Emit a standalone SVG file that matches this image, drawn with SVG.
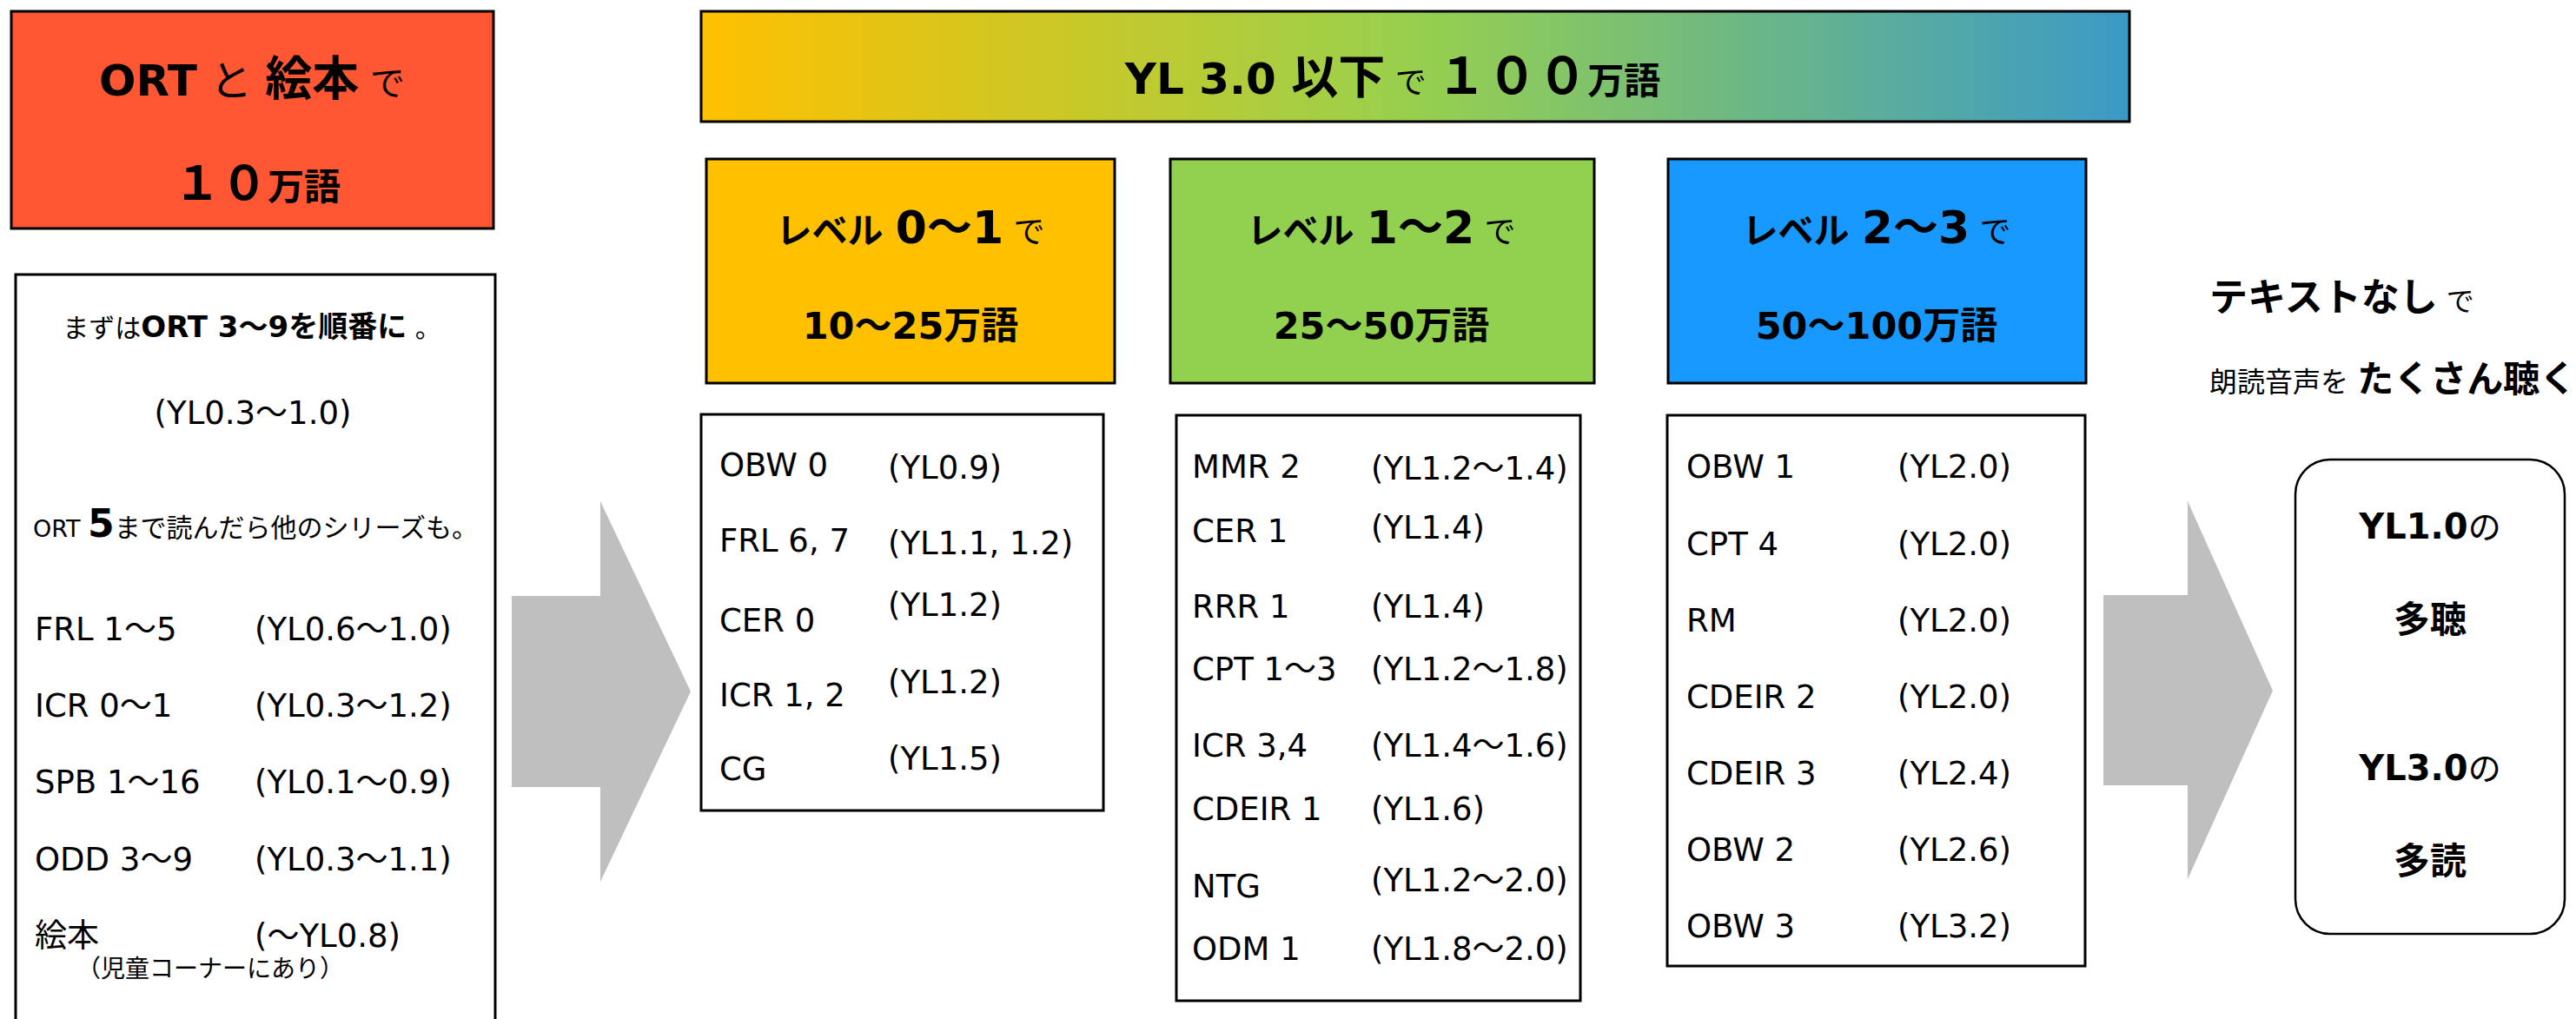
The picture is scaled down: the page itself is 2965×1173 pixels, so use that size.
<svg xmlns="http://www.w3.org/2000/svg" width="2965" height="1173" viewBox="0 0 2965 1173">
<defs>
  <linearGradient id="grad" x1="0" y1="0" x2="1" y2="0">
    <stop offset="0" stop-color="#FFC000"/>
    <stop offset="0.5" stop-color="#97D04E"/>
    <stop offset="1" stop-color="#3B9AC6"/>
  </linearGradient>
</defs>
<style>
  text { font-family: "DejaVu Sans", "Noto Sans CJK JP", sans-serif; fill: #000; }
  .b { font-weight: bold; }
  .box { stroke: #000; stroke-width: 3; }
  .list { font-size: 37px; }
  .arrow { fill: #BFBFBF; }
  .mid { text-anchor: middle; }
</style>
<rect width="2965" height="1173" fill="#FFFFFF"/>

<g id="connectors">
  <polygon class="arrow" points="589,686 691,686 691,577 795,796 691,1015 691,906 589,906"/>
  <polygon class="arrow" points="2421,685 2518,685 2518,577 2616,795 2518,1012 2518,904 2421,904"/>
</g>

<g id="node-ort">
  <rect class="box" x="13" y="13" width="555" height="250" fill="#FF5733"/>
  <text class="mid" x="290" y="110"><tspan class="b" font-size="50">ORT</tspan><tspan font-size="48"> と </tspan><tspan class="b" font-size="54">絵本</tspan><tspan font-size="40"> で</tspan></text>
  <text class="mid b" x="296" y="230"><tspan font-size="54">１０</tspan><tspan font-size="42">万語</tspan></text>
</g>

<g id="node-ort-list">
  <rect class="box" x="18" y="316" width="552" height="900" fill="#FFFFFF"/>
  <text class="mid" x="290" y="388"><tspan font-size="30">まずは</tspan><tspan class="b" font-size="34">ORT 3〜9を順番に</tspan><tspan font-size="30"> 。</tspan></text>
  <text class="mid" x="291" y="488" font-size="37">(YL0.3〜1.0)</text>
  <text class="mid" x="294" y="618"><tspan font-size="27">ORT </tspan><tspan class="b" font-size="44">5</tspan><tspan font-size="30">まで読んだら他のシリーズも。</tspan></text>
  <g class="list">
    <text x="40" y="737">FRL 1〜5</text><text x="293" y="737">(YL0.6〜1.0)</text>
    <text x="40" y="825">ICR 0〜1</text><text x="293" y="825">(YL0.3〜1.2)</text>
    <text x="40" y="913">SPB 1〜16</text><text x="293" y="913">(YL0.1〜0.9)</text>
    <text x="40" y="1002">ODD 3〜9</text><text x="293" y="1002">(YL0.3〜1.1)</text>
    <text x="40" y="1090">絵本</text><text x="293" y="1090">(〜YL0.8)</text>
  </g>
  <text x="88" y="1125" font-size="28">（児童コーナーにあり）</text>
</g>

<g id="node-yl3-title">
  <rect class="box" x="807" y="13" width="1644" height="127" fill="url(#grad)"/>
  <text class="mid" x="1603" y="108"><tspan class="b" font-size="50">YL 3.0 </tspan><tspan class="b" font-size="54">以下</tspan><tspan font-size="36"> で </tspan><tspan class="b" font-size="58">１００</tspan><tspan class="b" font-size="42">万語</tspan></text>
</g>

<g id="node-level-0-1">
  <rect class="box" x="813" y="183" width="470" height="258" fill="#FFC000"/>
  <text class="mid" x="1048" y="280"><tspan class="b" font-size="41">レベル </tspan><tspan class="b" font-size="52">0〜1</tspan><tspan font-size="36"> で</tspan></text>
  <text class="mid b" x="1048" y="390" font-size="43">10〜25万語</text>
</g>

<g id="node-level-1-2">
  <rect class="box" x="1347" y="183" width="488" height="258" fill="#92D050"/>
  <text class="mid" x="1590" y="280"><tspan class="b" font-size="41">レベル </tspan><tspan class="b" font-size="52">1〜2</tspan><tspan font-size="36"> で</tspan></text>
  <text class="mid b" x="1590" y="390" font-size="43">25〜50万語</text>
</g>

<g id="node-level-2-3">
  <rect class="box" x="1920" y="183" width="481" height="258" fill="#1899FF"/>
  <text class="mid" x="2160" y="280"><tspan class="b" font-size="41">レベル </tspan><tspan class="b" font-size="52">2〜3</tspan><tspan font-size="36"> で</tspan></text>
  <text class="mid b" x="2160" y="390" font-size="43">50〜100万語</text>
</g>

<g id="node-list-0-1" class="list">
  <rect class="box" x="807" y="477" width="463" height="456" fill="#FFFFFF"/>
  <text x="828" y="548">OBW 0</text><text x="1022" y="551">(YL0.9)</text>
  <text x="828" y="635">FRL 6, 7</text><text x="1022" y="638">(YL1.1,  1.2)</text>
  <text x="828" y="727">CER 0</text><text x="1022" y="709">(YL1.2)</text>
  <text x="828" y="813">ICR 1, 2</text><text x="1022" y="798">(YL1.2)</text>
  <text x="828" y="898">CG</text><text x="1022" y="886">(YL1.5)</text>
</g>

<g id="node-list-1-2" class="list">
  <rect class="box" x="1354" y="478" width="465" height="674" fill="#FFFFFF"/>
  <text x="1372" y="550">MMR 2</text><text x="1578" y="552">(YL1.2〜1.4)</text>
  <text x="1372" y="624">CER 1</text><text x="1578" y="620">(YL1.4)</text>
  <text x="1372" y="711">RRR 1</text><text x="1578" y="711">(YL1.4)</text>
  <text x="1372" y="783">CPT 1〜3</text><text x="1578" y="783">(YL1.2〜1.8)</text>
  <text x="1372" y="871">ICR 3,4</text><text x="1578" y="871">(YL1.4〜1.6)</text>
  <text x="1372" y="944">CDEIR 1</text><text x="1578" y="944">(YL1.6)</text>
  <text x="1372" y="1033">NTG</text><text x="1578" y="1026">(YL1.2〜2.0)</text>
  <text x="1372" y="1105">ODM 1</text><text x="1578" y="1105">(YL1.8〜2.0)</text>
</g>

<g id="node-list-2-3" class="list">
  <rect class="box" x="1919" y="478" width="481" height="634" fill="#FFFFFF"/>
  <text x="1941" y="550">OBW 1</text><text x="2184" y="550">(YL2.0)</text>
  <text x="1941" y="639">CPT 4</text><text x="2184" y="639">(YL2.0)</text>
  <text x="1941" y="727">RM</text><text x="2184" y="727">(YL2.0)</text>
  <text x="1941" y="815">CDEIR 2</text><text x="2184" y="815">(YL2.0)</text>
  <text x="1941" y="903">CDEIR 3</text><text x="2184" y="903">(YL2.4)</text>
  <text x="1941" y="991">OBW 2</text><text x="2184" y="991">(YL2.6)</text>
  <text x="1941" y="1079">OBW 3</text><text x="2184" y="1079">(YL3.2)</text>
</g>

<g id="node-no-text">
  <text x="2543" y="358"><tspan class="b" font-size="44">テキストなし</tspan><tspan font-size="32"> で</tspan></text>
  <text x="2543" y="451"><tspan font-size="32">朗読音声を </tspan><tspan class="b" font-size="42">たくさん聴く</tspan></text>
</g>

<g id="node-goal">
  <rect x="2642" y="529" width="310" height="546" rx="40" ry="40" fill="#FFFFFF" stroke="#000" stroke-width="2.5"/>
  <text class="mid" x="2797" y="620"><tspan class="b" font-size="40">YL1.0</tspan><tspan font-size="38">の</tspan></text>
  <text class="mid b" x="2797" y="728" font-size="42">多聴</text>
  <text class="mid" x="2797" y="898"><tspan class="b" font-size="40">YL3.0</tspan><tspan font-size="38">の</tspan></text>
  <text class="mid b" x="2797" y="1006" font-size="42">多読</text>
</g>
</svg>
